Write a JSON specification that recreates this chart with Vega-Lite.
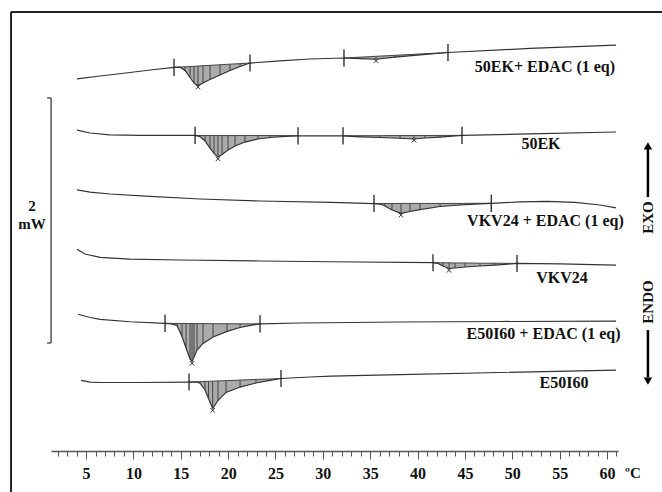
{
  "$schema": "https://vega.github.io/schema/vega-lite/v6.json",
  "width": 567,
  "height": 451,
  "autosize": {"type": "none"},
  "padding": {"left": 51, "top": 0, "right": 44, "bottom": 41},
  "background": "white",
  "config": {"view": {"stroke": null}},
  "datasets": {
    "curves": [
      {"s":"c1","t":4.05,"v":3.037},{"s":"c1","t":6.48,"v":3.061},{"s":"c1","t":9.64,"v":3.090},{"s":"c1","t":11.76,"v":3.110},{"s":"c1","t":14.29,"v":3.131},{"s":"c1","t":14.92,"v":3.133},{"s":"c1","t":15.45,"v":3.106},{"s":"c1","t":15.98,"v":3.049},{"s":"c1","t":16.40,"v":3.004},{"s":"c1","t":16.82,"v":2.984},{"s":"c1","t":17.35,"v":3.004},{"s":"c1","t":18.09,"v":3.033},{"s":"c1","t":19.14,"v":3.069},{"s":"c1","t":20.20,"v":3.106},{"s":"c1","t":21.26,"v":3.139},{"s":"c1","t":22.31,"v":3.167},{"s":"c1","t":25.48,"v":3.184},{"s":"c1","t":28.65,"v":3.200},{"s":"c1","t":32.23,"v":3.208},{"s":"c1","t":33.92,"v":3.203},{"s":"c1","t":35.61,"v":3.198},{"s":"c1","t":37.62,"v":3.215},{"s":"c1","t":40.26,"v":3.233},{"s":"c1","t":43.21,"v":3.253},{"s":"c1","t":51.87,"v":3.286},{"s":"c1","t":60.95,"v":3.314},
      {"s":"c2","t":4.05,"v":2.620},{"s":"c2","t":5.42,"v":2.596},{"s":"c2","t":7.53,"v":2.580},{"s":"c2","t":10.70,"v":2.576},{"s":"c2","t":16.51,"v":2.576},{"s":"c2","t":17.03,"v":2.567},{"s":"c2","t":17.56,"v":2.531},{"s":"c2","t":18.09,"v":2.473},{"s":"c2","t":18.51,"v":2.429},{"s":"c2","t":18.93,"v":2.400},{"s":"c2","t":19.36,"v":2.420},{"s":"c2","t":19.99,"v":2.457},{"s":"c2","t":20.73,"v":2.490},{"s":"c2","t":21.78,"v":2.522},{"s":"c2","t":23.16,"v":2.547},{"s":"c2","t":24.42,"v":2.559},{"s":"c2","t":26.01,"v":2.569},{"s":"c2","t":27.38,"v":2.573},{"s":"c2","t":32.13,"v":2.573},{"s":"c2","t":33.92,"v":2.565},{"s":"c2","t":36.03,"v":2.559},{"s":"c2","t":38.15,"v":2.553},{"s":"c2","t":39.62,"v":2.547},{"s":"c2","t":40.78,"v":2.555},{"s":"c2","t":42.37,"v":2.563},{"s":"c2","t":44.69,"v":2.576},{"s":"c2","t":51.87,"v":2.588},{"s":"c2","t":60.95,"v":2.604},
      {"s":"c3","t":4.05,"v":2.131},{"s":"c3","t":5.42,"v":2.114},{"s":"c3","t":7.53,"v":2.098},{"s":"c3","t":11.76,"v":2.078},{"s":"c3","t":17.03,"v":2.057},{"s":"c3","t":23.37,"v":2.041},{"s":"c3","t":30.86,"v":2.029},{"s":"c3","t":35.40,"v":2.020},{"s":"c3","t":36.03,"v":2.016},{"s":"c3","t":36.56,"v":2.000},{"s":"c3","t":37.30,"v":1.967},{"s":"c3","t":38.25,"v":1.940},{"s":"c3","t":39.20,"v":1.955},{"s":"c3","t":40.26,"v":1.971},{"s":"c3","t":42.37,"v":1.996},{"s":"c3","t":44.48,"v":2.008},{"s":"c3","t":46.06,"v":2.016},{"s":"c3","t":47.78,"v":2.022},{"s":"c3","t":50.81,"v":2.033},{"s":"c3","t":53.77,"v":2.038},{"s":"c3","t":56.62,"v":2.029},{"s":"c3","t":59.26,"v":2.008},{"s":"c3","t":60.95,"v":1.984},
      {"s":"c4","t":4.05,"v":1.647},{"s":"c4","t":4.89,"v":1.608},{"s":"c4","t":6.48,"v":1.580},{"s":"c4","t":9.64,"v":1.567},{"s":"c4","t":14.92,"v":1.559},{"s":"c4","t":23.37,"v":1.551},{"s":"c4","t":30.86,"v":1.545},{"s":"c4","t":41.63,"v":1.537},{"s":"c4","t":42.16,"v":1.531},{"s":"c4","t":42.68,"v":1.510},{"s":"c4","t":43.32,"v":1.490},{"s":"c4","t":43.95,"v":1.494},{"s":"c4","t":45.01,"v":1.502},{"s":"c4","t":46.59,"v":1.510},{"s":"c4","t":48.17,"v":1.518},{"s":"c4","t":49.23,"v":1.524},{"s":"c4","t":50.50,"v":1.531},{"s":"c4","t":55.04,"v":1.527},{"s":"c4","t":60.95,"v":1.518},
      {"s":"c5","t":4.15,"v":1.116},{"s":"c5","t":5.42,"v":1.090},{"s":"c5","t":6.48,"v":1.075},{"s":"c5","t":9.64,"v":1.055},{"s":"c5","t":13.34,"v":1.042},{"s":"c5","t":14.08,"v":1.037},{"s":"c5","t":14.61,"v":1.024},{"s":"c5","t":15.13,"v":0.935},{"s":"c5","t":15.56,"v":0.841},{"s":"c5","t":15.98,"v":0.751},{"s":"c5","t":16.19,"v":0.731},{"s":"c5","t":16.40,"v":0.767},{"s":"c5","t":16.72,"v":0.824},{"s":"c5","t":17.35,"v":0.878},{"s":"c5","t":18.41,"v":0.931},{"s":"c5","t":19.88,"v":0.976},{"s":"c5","t":21.26,"v":1.008},{"s":"c5","t":22.63,"v":1.029},{"s":"c5","t":23.37,"v":1.038},{"s":"c5","t":27.59,"v":1.045},{"s":"c5","t":38.15,"v":1.053},{"s":"c5","t":48.70,"v":1.057},{"s":"c5","t":60.95,"v":1.061},
      {"s":"c6","t":4.47,"v":0.576},{"s":"c6","t":5.42,"v":0.563},{"s":"c6","t":6.48,"v":0.559},{"s":"c6","t":10.70,"v":0.559},{"s":"c6","t":15.87,"v":0.563},{"s":"c6","t":16.61,"v":0.563},{"s":"c6","t":17.03,"v":0.553},{"s":"c6","t":17.56,"v":0.498},{"s":"c6","t":17.93,"v":0.429},{"s":"c6","t":18.37,"v":0.347},{"s":"c6","t":18.93,"v":0.412},{"s":"c6","t":19.78,"v":0.478},{"s":"c6","t":21.26,"v":0.522},{"s":"c6","t":22.94,"v":0.555},{"s":"c6","t":24.42,"v":0.576},{"s":"c6","t":25.58,"v":0.592},{"s":"c6","t":28.65,"v":0.604},{"s":"c6","t":30.86,"v":0.612},{"s":"c6","t":38.15,"v":0.624},{"s":"c6","t":48.70,"v":0.641},{"s":"c6","t":60.95,"v":0.661}
    ],
    "hatch": [
      {"p":"h1a","t":14.29,"v":3.131,"v2":3.131},{"p":"h1a","t":14.92,"v":3.133,"v2":3.134},{"p":"h1a","t":15.45,"v":3.106,"v2":3.136},{"p":"h1a","t":15.98,"v":3.049,"v2":3.138},{"p":"h1a","t":16.40,"v":3.004,"v2":3.140},{"p":"h1a","t":16.82,"v":2.984,"v2":3.142},{"p":"h1a","t":17.35,"v":3.004,"v2":3.145},{"p":"h1a","t":18.09,"v":3.033,"v2":3.148},{"p":"h1a","t":19.14,"v":3.069,"v2":3.153},{"p":"h1a","t":20.20,"v":3.106,"v2":3.158},{"p":"h1a","t":21.26,"v":3.139,"v2":3.162},{"p":"h1a","t":22.31,"v":3.167,"v2":3.167},
      {"p":"h1b","t":32.23,"v":3.208,"v2":3.208},{"p":"h1b","t":33.92,"v":3.203,"v2":3.215},{"p":"h1b","t":35.61,"v":3.198,"v2":3.222},{"p":"h1b","t":37.62,"v":3.215,"v2":3.230},{"p":"h1b","t":40.26,"v":3.233,"v2":3.241},{"p":"h1b","t":43.21,"v":3.253,"v2":3.253},
      {"p":"h2a","t":16.51,"v":2.576,"v2":2.576},{"p":"h2a","t":17.03,"v":2.567,"v2":2.575},{"p":"h2a","t":17.56,"v":2.531,"v2":2.575},{"p":"h2a","t":18.09,"v":2.473,"v2":2.575},{"p":"h2a","t":18.51,"v":2.429,"v2":2.575},{"p":"h2a","t":18.93,"v":2.400,"v2":2.575},{"p":"h2a","t":19.36,"v":2.420,"v2":2.575},{"p":"h2a","t":19.99,"v":2.457,"v2":2.575},{"p":"h2a","t":20.73,"v":2.490,"v2":2.575},{"p":"h2a","t":21.78,"v":2.522,"v2":2.575},{"p":"h2a","t":23.16,"v":2.547,"v2":2.575},{"p":"h2a","t":24.42,"v":2.559,"v2":2.575},{"p":"h2a","t":26.01,"v":2.569,"v2":2.574},{"p":"h2a","t":27.38,"v":2.573,"v2":2.574},
      {"p":"h2b","t":32.13,"v":2.573,"v2":2.574},{"p":"h2b","t":33.92,"v":2.565,"v2":2.574},{"p":"h2b","t":36.03,"v":2.559,"v2":2.574},{"p":"h2b","t":38.15,"v":2.553,"v2":2.575},{"p":"h2b","t":39.62,"v":2.547,"v2":2.575},{"p":"h2b","t":40.78,"v":2.555,"v2":2.575},{"p":"h2b","t":42.37,"v":2.563,"v2":2.576},{"p":"h2b","t":44.69,"v":2.576,"v2":2.576},
      {"p":"h3","t":35.40,"v":2.020,"v2":2.020},{"p":"h3","t":36.03,"v":2.016,"v2":2.020},{"p":"h3","t":36.56,"v":2.000,"v2":2.020},{"p":"h3","t":37.30,"v":1.967,"v2":2.020},{"p":"h3","t":38.25,"v":1.940,"v2":2.021},{"p":"h3","t":39.20,"v":1.955,"v2":2.021},{"p":"h3","t":40.26,"v":1.971,"v2":2.021},{"p":"h3","t":42.37,"v":1.996,"v2":2.021},{"p":"h3","t":44.48,"v":2.008,"v2":2.021},{"p":"h3","t":46.06,"v":2.016,"v2":2.022},{"p":"h3","t":47.78,"v":2.022,"v2":2.022},
      {"p":"h4","t":41.63,"v":1.537,"v2":1.537},{"p":"h4","t":42.16,"v":1.531,"v2":1.537},{"p":"h4","t":42.68,"v":1.510,"v2":1.536},{"p":"h4","t":43.32,"v":1.490,"v2":1.536},{"p":"h4","t":43.95,"v":1.494,"v2":1.535},{"p":"h4","t":45.01,"v":1.502,"v2":1.535},{"p":"h4","t":46.59,"v":1.510,"v2":1.533},{"p":"h4","t":48.17,"v":1.518,"v2":1.533},{"p":"h4","t":49.23,"v":1.524,"v2":1.532},{"p":"h4","t":50.50,"v":1.531,"v2":1.531},
      {"p":"h5","t":13.34,"v":1.042,"v2":1.042},{"p":"h5","t":14.08,"v":1.037,"v2":1.042},{"p":"h5","t":14.61,"v":1.024,"v2":1.041},{"p":"h5","t":15.13,"v":0.935,"v2":1.041},{"p":"h5","t":15.56,"v":0.841,"v2":1.041},{"p":"h5","t":15.98,"v":0.751,"v2":1.040},{"p":"h5","t":16.19,"v":0.731,"v2":1.040},{"p":"h5","t":16.40,"v":0.767,"v2":1.040},{"p":"h5","t":16.72,"v":0.824,"v2":1.040},{"p":"h5","t":17.35,"v":0.878,"v2":1.040},{"p":"h5","t":18.41,"v":0.931,"v2":1.039},{"p":"h5","t":19.88,"v":0.976,"v2":1.039},{"p":"h5","t":21.26,"v":1.008,"v2":1.038},{"p":"h5","t":22.63,"v":1.029,"v2":1.038},{"p":"h5","t":23.37,"v":1.038,"v2":1.038},
      {"p":"h6","t":15.87,"v":0.563,"v2":0.563},{"p":"h6","t":16.61,"v":0.563,"v2":0.565},{"p":"h6","t":17.03,"v":0.553,"v2":0.566},{"p":"h6","t":17.56,"v":0.498,"v2":0.568},{"p":"h6","t":17.93,"v":0.429,"v2":0.569},{"p":"h6","t":18.37,"v":0.347,"v2":0.570},{"p":"h6","t":18.93,"v":0.412,"v2":0.572},{"p":"h6","t":19.78,"v":0.478,"v2":0.574},{"p":"h6","t":21.26,"v":0.522,"v2":0.579},{"p":"h6","t":22.94,"v":0.555,"v2":0.584},{"p":"h6","t":24.42,"v":0.576,"v2":0.588},{"p":"h6","t":25.58,"v":0.592,"v2":0.592}
    ],
    "limits": [
      {"t":14.29,"v":3.201,"v2":3.061},{"t":22.31,"v":3.237,"v2":3.097},{"t":32.23,"v":3.278,"v2":3.138},{"t":43.21,"v":3.323,"v2":3.183},
      {"t":16.51,"v":2.646,"v2":2.506},{"t":27.38,"v":2.643,"v2":2.503},{"t":32.13,"v":2.643,"v2":2.503},{"t":44.69,"v":2.646,"v2":2.506},
      {"t":35.40,"v":2.090,"v2":1.950},{"t":47.78,"v":2.092,"v2":1.952},
      {"t":41.63,"v":1.607,"v2":1.467},{"t":50.50,"v":1.601,"v2":1.461},
      {"t":13.34,"v":1.112,"v2":0.972},{"t":23.37,"v":1.108,"v2":0.968},
      {"t":15.87,"v":0.633,"v2":0.493},{"t":25.58,"v":0.662,"v2":0.522}
    ],
    "peaks": [
      {"t":16.82,"v":2.970},{"t":35.61,"v":3.186},{"t":18.93,"v":2.385},{"t":39.62,"v":2.537},{"t":38.25,"v":1.925},{"t":43.32,"v":1.475},{"t":16.19,"v":0.716},{"t":18.37,"v":0.332}
    ],
    "labels": [
      {"t":53.45,"v":3.137,"label":"50EK+ EDAC (1 eq)"},
      {"t":53.03,"v":2.506,"label":"50EK"},
      {"t":53.50,"v":1.878,"label":"VKV24 + EDAC (1 eq)"},
      {"t":55.25,"v":1.415,"label":"VKV24"},
      {"t":53.29,"v":0.955,"label":"E50I60 + EDAC (1 eq)"},
      {"t":55.46,"v":0.558,"label":"E50I60"}
    ],
    "frame": [
      {"t":-2.92,"v":3.584,"t2":-2.92,"v2":-0.335},
      {"t":-2.92,"v":3.584,"t2":65.8,"v2":3.584}
    ],
    "scalebar": [
      {"t":1.31,"v":2.882,"t2":1.31,"v2":0.882},
      {"t":0.89,"v":2.882,"t2":1.31,"v2":2.882},
      {"t":0.89,"v":0.882,"t2":1.31,"v2":0.882}
    ],
    "arrows": [
      {"t":64.32,"v":2.073,"t2":64.32,"v2":2.47},
      {"t":64.32,"v":0.988,"t2":64.32,"v2":0.60}
    ],
    "heads": [
      {"t":64.32,"v":2.490,"dir":"up"},
      {"t":64.32,"v":0.571,"dir":"down"}
    ],
    "annot": [
      {"t":-0.70,"v":2.000,"label":"2"},
      {"t":-0.70,"v":1.853,"label":"mW"},
      {"t":62.74,"v":-0.180,"label":"ºC"}
    ],
    "sides": [
      {"t":64.32,"v":1.906,"label":"EXO"},
      {"t":64.32,"v":1.216,"label":"ENDO"}
    ]
  },
  "encoding": {
    "x": {
      "field": "t", "type": "quantitative",
      "scale": {"domain": [1.3, 61.16], "nice": false, "zero": false},
      "axis": {
        "values": [2,3,4,5,6,7,8,9,10,11,12,13,14,15,16,17,18,19,20,21,22,23,24,25,26,27,28,29,30,31,32,33,34,35,36,37,38,39,40,41,42,43,44,45,46,47,48,49,50,51,52,53,54,55,56,57,58,59,60,61],
        "title": null, "grid": false,
        "domainColor": "#555", "domainWidth": 1.5,
        "tickColor": "#555", "tickWidth": 1,
        "tickSize": {"condition": {"test": "datum.value % 5 === 0", "value": 8}, "value": 5},
        "labelExpr": "datum.value % 5 === 0 ? datum.label : ''",
        "labelOverlap": false,
        "labelFont": "Liberation Serif", "labelFontWeight": "bold", "labelFontSize": 16, "labelColor": "#111",
        "labelPadding": 6
      }
    },
    "y": {
      "field": "v", "type": "quantitative",
      "scale": {"domain": [0, 3.6816], "nice": false, "zero": false},
      "axis": null
    }
  },
  "layer": [
    {"data": {"name": "frame"}, "mark": {"type": "rule", "stroke": "#222", "strokeWidth": 2},
     "encoding": {"x2": {"field": "t2"}, "y2": {"field": "v2"}}},
    {"data": {"name": "scalebar"}, "mark": {"type": "rule", "stroke": "#555", "strokeWidth": 1.5},
     "encoding": {"x2": {"field": "t2"}, "y2": {"field": "v2"}}},
    {"data": {"name": "hatch"}, "mark": {"type": "area", "fill": "#888888", "fillOpacity": 0.7},
     "encoding": {"y2": {"field": "v2"}, "detail": {"field": "p"}}},
    {"data": {"name": "hatch"}, "mark": {"type": "rule", "stroke": "#444", "strokeWidth": 1},
     "encoding": {"y2": {"field": "v2"}}},
    {"data": {"name": "hatch"}, "mark": {"type": "line", "stroke": "#444", "strokeWidth": 1},
     "encoding": {"y": {"field": "v2", "type": "quantitative"}, "detail": {"field": "p"}}},
    {"data": {"name": "curves"}, "mark": {"type": "line", "stroke": "#333", "strokeWidth": 1.2},
     "encoding": {"detail": {"field": "s"}}},
    {"data": {"name": "limits"}, "mark": {"type": "rule", "stroke": "#222", "strokeWidth": 1.3},
     "encoding": {"y2": {"field": "v2"}}},
    {"data": {"name": "peaks"}, "mark": {"type": "point", "shape": "M-1,-1L1,1M-1,1L1,-1", "size": 20, "filled": false, "stroke": "#333", "strokeWidth": 1, "opacity": 1},
     "encoding": {}},
    {"data": {"name": "labels"}, "mark": {"type": "text", "font": "Liberation Serif", "fontWeight": "bold", "fontSize": 16, "color": "#111", "align": "center", "baseline": "middle"},
     "encoding": {"text": {"field": "label"}}},
    {"data": {"name": "arrows"}, "mark": {"type": "rule", "stroke": "#000", "strokeWidth": 2.5},
     "encoding": {"x2": {"field": "t2"}, "y2": {"field": "v2"}}},
    {"data": {"name": "heads"}, "mark": {"type": "point", "filled": true, "color": "#000", "size": 70, "opacity": 1},
     "encoding": {"shape": {"field": "dir", "type": "nominal", "scale": {"domain": ["up", "down"], "range": ["triangle-up", "triangle-down"]}, "legend": null}}},
    {"data": {"name": "annot"}, "mark": {"type": "text", "font": "Liberation Serif", "fontWeight": "bold", "fontSize": 15, "color": "#111", "align": "center", "baseline": "middle"},
     "encoding": {"text": {"field": "label"}}},
    {"data": {"name": "sides"}, "mark": {"type": "text", "font": "Liberation Serif", "fontWeight": "bold", "fontSize": 15, "color": "#111", "align": "center", "baseline": "middle", "angle": 270},
     "encoding": {"text": {"field": "label"}}}
  ]
}
